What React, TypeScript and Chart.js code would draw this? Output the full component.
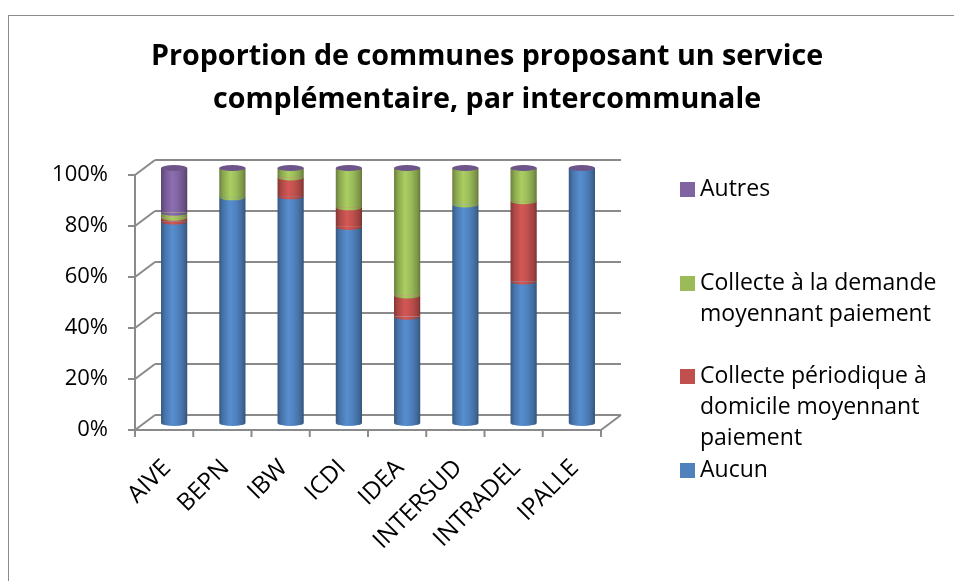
import React, { useEffect, useRef } from "react";
import { Chart, registerables } from "chart.js";

Chart.register(...registerables);

// ---------- data ----------
const categories = ["AIVE", "BEPN", "IBW", "ICDI", "IDEA", "INTERSUD", "INTRADEL", "IPALLE"];
const aucun = [79, 88.5, 88.9, 76.9, 41.7, 85.7, 55.5, 100];
const periodique = [1.5, 0, 7.4, 7.7, 8.3, 0, 31.5, 0];
const demande = [2, 11.5, 3.7, 15.4, 50, 14.3, 13, 0];
const autres = [17.5, 0, 0, 0, 0, 0, 0, 0];
const yTicks = [0, 20, 40, 60, 80, 100];
const titleLines = ["Proportion de communes proposant un service", "complémentaire, par intercommunale"];
const seriesNames = [
  "Aucun",
  "Collecte périodique à domicile moyennant paiement",
  "Collecte à la demande moyennant paiement",
  "Autres",
];
const legendLines = [
  ["Autres"],
  ["Collecte à la demande", "moyennant paiement"],
  ["Collecte périodique à", "domicile moyennant", "paiement"],
  ["Aucun"],
];

// ---------- style ----------
const W = 954;
const H = 581;
const AREA = { left: 145, right: 611, top: 168, bottom: 423 };
const FRONT = { dx: -10, dy: 7 };
const BACK = { dx: 10, dy: -8 };
const GRID = "#8a8a8a";
const FONT = '"Open Sans", "DejaVu Sans", sans-serif';
const COLORS: [number, number, number][] = [
  [79, 129, 189],
  [192, 80, 77],
  [155, 187, 89],
  [128, 100, 162],
];
const LEGEND_COLORS = ["#8064A2", "#9BBB59", "#C0504D", "#4F81BD"];
const LEGEND_Y = [189, 283, 376, 470];
const BAR_PCT = 0.45;

const rgb = (c: [number, number, number], k: number) =>
  `rgb(${Math.min(255, Math.round(c[0] * k))},${Math.min(255, Math.round(c[1] * k))},${Math.min(255, Math.round(c[2] * k))})`;

function cylGradient(ctx: CanvasRenderingContext2D, cx: number, half: number, c: [number, number, number]) {
  const g = ctx.createLinearGradient(cx - half, 0, cx + half, 0);
  g.addColorStop(0, rgb(c, 0.68));
  g.addColorStop(0.15, rgb(c, 0.9));
  g.addColorStop(0.42, rgb(c, 1.1));
  g.addColorStop(0.65, rgb(c, 1.0));
  g.addColorStop(0.88, rgb(c, 0.82));
  g.addColorStop(1, rgb(c, 0.64));
  return g;
}

const cylFill = (c: [number, number, number]) => (context: any) => {
  const chart = context.chart;
  const xs = chart.scales?.x;
  if (!chart.chartArea || !xs) return rgb(c, 1);
  const step = xs.width / categories.length;
  const cx = xs.getPixelForValue(context.dataIndex);
  return cylGradient(chart.ctx, cx, (step * BAR_PCT) / 2, c);
};

const framePlugin = {
  id: "frame3d",
  beforeDraw(chart: any) {
    const ctx = chart.ctx as CanvasRenderingContext2D;
    ctx.save();
    ctx.fillStyle = "#fff";
    ctx.fillRect(0, 0, W, H);
    ctx.strokeStyle = "#8c8c8c";
    ctx.lineWidth = 1;
    ctx.strokeRect(8.5, 15.5, 2000, 2000);
    // title
    ctx.fillStyle = "#000";
    ctx.font = `bold 28.7px ${FONT}`;
    ctx.textAlign = "center";
    ctx.textBaseline = "middle";
    ctx.fillText(titleLines[0], 487, 57);
    ctx.fillText(titleLines[1], 487, 100);
    // legend
    ctx.font = `23px ${FONT}`;
    ctx.textAlign = "left";
    legendLines.forEach((lines, i) => {
      const y0 = LEGEND_Y[i];
      ctx.fillStyle = LEGEND_COLORS[i];
      ctx.fillRect(680, y0 - 7, 15, 15);
      ctx.fillStyle = "#000";
      lines.forEach((t, j) => ctx.fillText(t, 700, y0 + j * 31));
    });
    ctx.restore();
  },
  beforeDatasetsDraw(chart: any) {
    const ctx = chart.ctx as CanvasRenderingContext2D;
    const a = chart.chartArea;
    const ys = chart.scales.y;
    const xs = chart.scales.x;
    const line = (x1: number, y1: number, x2: number, y2: number) => {
      ctx.beginPath();
      ctx.moveTo(x1, y1);
      ctx.lineTo(x2, y2);
      ctx.stroke();
    };
    ctx.save();
    ctx.strokeStyle = GRID;
    ctx.lineWidth = 2;
    const y0 = ys.getPixelForValue(0);
    const y100 = ys.getPixelForValue(100);
    yTicks.forEach((v) => {
      const py = ys.getPixelForValue(v);
      line(a.left + BACK.dx, py + BACK.dy, a.right + BACK.dx, py + BACK.dy);
      line(a.left + FRONT.dx, py + FRONT.dy, a.left + BACK.dx, py + BACK.dy);
      line(a.left + FRONT.dx - 7, py + FRONT.dy, a.left + FRONT.dx, py + FRONT.dy);
    });
    line(a.left + FRONT.dx, y0 + FRONT.dy, a.left + FRONT.dx, y100 + FRONT.dy);
    line(a.left + FRONT.dx, y0 + FRONT.dy, a.right + FRONT.dx, y0 + FRONT.dy);
    line(a.right + FRONT.dx, y0 + FRONT.dy, a.right + BACK.dx, y0 + BACK.dy);
    const step = xs.width / categories.length;
    for (let i = 0; i <= categories.length; i++) {
      const bx = xs.getPixelForValue(0) - step / 2 + i * step + FRONT.dx;
      line(bx, y0 + FRONT.dy, bx, y0 + FRONT.dy + 7);
    }
    ctx.restore();
  },
  afterDatasetsDraw(chart: any) {
    const ctx = chart.ctx as CanvasRenderingContext2D;
    const n = chart.data.datasets.length;
    const ry = 3;
    ctx.save();
    const tops: number[] = [];
    for (let d = 0; d < n; d++) {
      const meta = chart.getDatasetMeta(d);
      meta.data.forEach((el: any, i: number) => {
        const { x, y, base, width } = el.getProps(["x", "y", "base", "width"], true);
        if (Math.abs(base - y) < 0.5) return;
        tops[i] = tops[i] === undefined ? y : Math.min(tops[i], y);
        ctx.fillStyle = cylGradient(ctx, x, width / 2, COLORS[d]);
        ctx.beginPath();
        ctx.ellipse(x, base, width / 2, ry, 0, 0, Math.PI);
        ctx.fill();
      });
    }
    const meta0 = chart.getDatasetMeta(0);
    meta0.data.forEach((el: any, i: number) => {
      const { x, width } = el.getProps(["x", "width"], true);
      if (tops[i] === undefined) return;
      ctx.fillStyle = rgb(COLORS[3], 0.85);
      ctx.beginPath();
      ctx.ellipse(x, tops[i], width / 2, ry, 0, 0, Math.PI * 2);
      ctx.fill();
    });
    ctx.restore();
  },
};

export default function App() {
  const ref = useRef<HTMLCanvasElement | null>(null);
  useEffect(() => {
    if (!ref.current) return;
    const series = [aucun, periodique, demande, autres];
    const chart = new Chart(ref.current, {
      type: "bar",
      data: {
        labels: categories,
        datasets: series.map((values, d) => ({
          label: seriesNames[d],
          data: values,
          backgroundColor: cylFill(COLORS[d]),
          borderWidth: 0,
          barPercentage: BAR_PCT,
          categoryPercentage: 1,
        })),
      },
      options: {
        responsive: false,
        animation: false,
        events: [],
        devicePixelRatio: 1,
        layout: { padding: { left: 0, right: W - AREA.right, top: AREA.top, bottom: 0 } },
        plugins: {
          legend: { display: false },
          title: { display: false },
          tooltip: { enabled: false },
        },
        scales: {
          x: {
            stacked: true,
            grid: { display: false, drawTicks: false },
            border: { display: false },
            ticks: {
              autoSkip: false,
              minRotation: 45,
              maxRotation: 45,
              padding: 31,
              labelOffset: -7,
              color: "#000",
              font: { family: FONT, size: 24 },
            },
            afterFit: (s: any) => {
              s.height = H - AREA.bottom;
            },
          },
          y: {
            stacked: true,
            min: 0,
            max: 100,
            grid: { display: false, drawTicks: false },
            border: { display: false },
            ticks: {
              stepSize: 20,
              padding: 37,
              labelOffset: 7,
              color: "#000",
              font: { family: FONT, size: 22 },
              callback: (v: any) => `${v}%`,
            },
            afterFit: (s: any) => {
              s.width = AREA.left;
            },
          },
        },
      },
      plugins: [framePlugin],
    });
    return () => chart.destroy();
  }, []);

  return (
    <div style={{ position: "fixed", left: 0, top: 0, width: W, height: H, overflow: "hidden", background: "#fff" }}>
      <canvas ref={ref} width={W} height={H} style={{ display: "block", width: W, height: H }} />
    </div>
  );
}
